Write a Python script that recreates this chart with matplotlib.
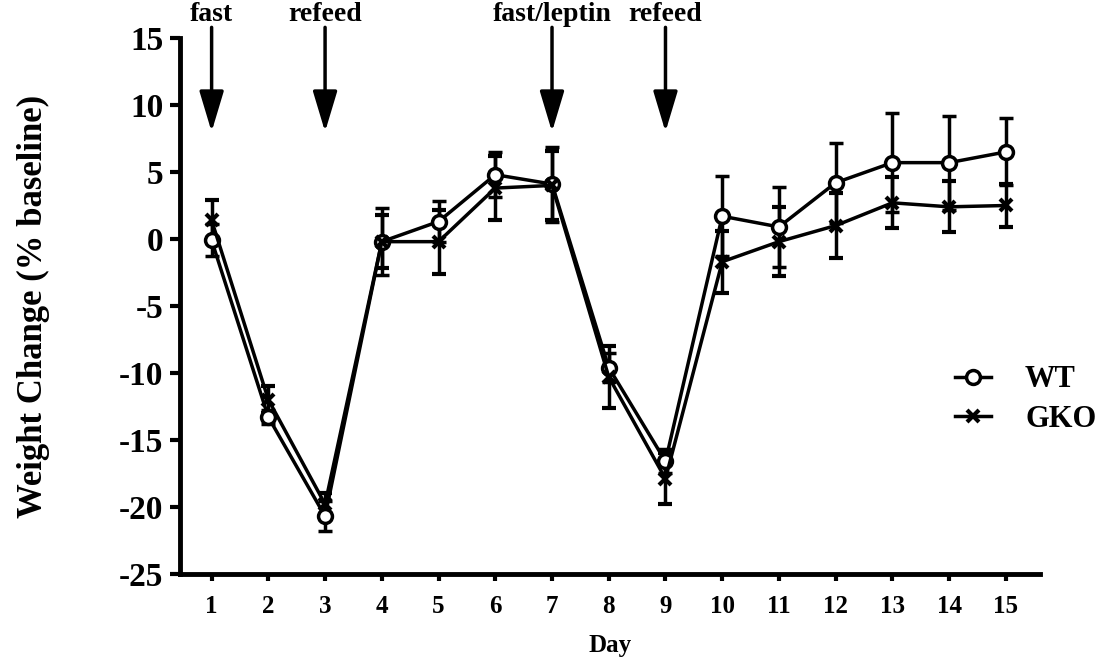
import matplotlib.pyplot as plt
from matplotlib.lines import Line2D

# dati
days = list(range(1, 16))
wt_mean = [-0.1, -13.3, -20.7, -0.2, 1.3, 4.8, 4.1, -9.6, -16.6, 1.7, 0.9, 4.2, 5.7, 5.7, 6.5]
wt_err = [1.2, 0.5, 1.1, 2.5, 1.5, 1.7, 2.8, 1.1, 0.9, 3.0, 3.0, 3.0, 3.7, 3.5, 2.5]
gko_mean = [1.4, -12.0, -19.8, -0.2, -0.2, 3.8, 4.0, -10.3, -17.9, -1.7, -0.2, 1.0, 2.7, 2.4, 2.5]
gko_err = [1.5, 1.0, 0.8, 2.0, 2.4, 2.4, 2.6, 2.3, 1.9, 2.3, 2.6, 2.4, 1.9, 1.9, 1.6]

event_days = [1, 3, 7, 9]
event_labels = ['fast', 'refeed', 'fast/leptin', 'refeed']
y_ticks = [15, 10, 5, 0, -5, -10, -15, -20, -25]

plt.rcParams['font.family'] = ['Liberation Serif', 'DejaVu Serif']
plt.rcParams['font.weight'] = 'bold'
plt.rcParams['axes.unicode_minus'] = False

fig = plt.figure(figsize=(11.17, 6.68), dpi=100)
ax = fig.add_axes([0.161, 0.141, 0.77, 0.802])

ax.errorbar(days, wt_mean, yerr=wt_err, color='black', marker='o', markersize=10,
            markerfacecolor='white', markeredgewidth=2.5, linewidth=2.5,
            elinewidth=2.5, capsize=5, capthick=2.5, zorder=3)
ax.errorbar(days, gko_mean, yerr=gko_err, color='black', marker='x', markersize=9,
            markeredgewidth=3, linewidth=2.5, elinewidth=2.5, capsize=5,
            capthick=2.5, zorder=3)

# frecce degli eventi
for d, lab in zip(event_days, event_labels):
    ax.annotate('', xy=(d, 8.0), xytext=(d, 15.8), annotation_clip=False,
                arrowprops=dict(arrowstyle='-|>,head_length=2.5,head_width=0.75',
                                lw=2.5, color='black', shrinkA=0, shrinkB=0))
    ax.text(d, 15.85, lab, ha='center', va='bottom', fontsize=20,
            fontweight='bold', clip_on=False)

ax.set_xlim(0.44, 15.6)
ax.set_ylim(-25, 15)
ax.set_xticks(days)
ax.set_yticks(y_ticks)
ax.tick_params(axis='y', labelsize=24, width=3, length=7, direction='out', pad=5)
ax.tick_params(axis='x', labelsize=18, width=3, length=5, direction='out', pad=10)
for lab in ax.get_xticklabels() + ax.get_yticklabels():
    lab.set_fontweight('bold')

for s in ['top', 'right']:
    ax.spines[s].set_visible(False)
for s in ['left', 'bottom']:
    ax.spines[s].set_linewidth(3.5)

ax.set_xlabel('Day', fontsize=18, fontweight='bold', labelpad=12)
ax.set_ylabel('Weight Change (% baseline)', fontsize=25, fontweight='bold')
ax.yaxis.set_label_coords(-0.151, 0.5)

handles = [Line2D([], [], color='black', marker='o', markersize=10, markerfacecolor='white',
                  markeredgewidth=2.5, linewidth=2.5),
           Line2D([], [], color='black', marker='x', markersize=9, markeredgewidth=3,
                  linewidth=2.5)]
leg = ax.legend(handles, ['WT', 'GKO'], loc='center left', bbox_to_anchor=(0.869, 0.325),
                frameon=False, fontsize=22, handlelength=1.2, handletextpad=1.1,
                labelspacing=0.35)
for t in leg.get_texts():
    t.set_fontweight('bold')

plt.savefig('out.png', dpi=100)
